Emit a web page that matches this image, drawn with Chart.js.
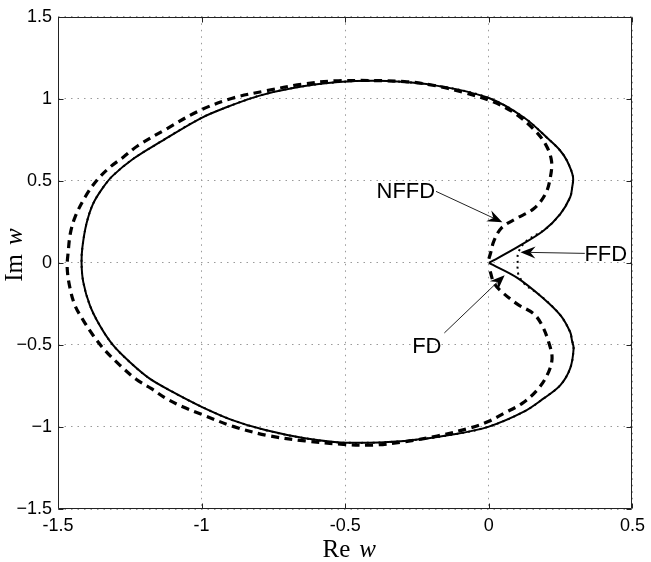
<!DOCTYPE html>
<html><head><meta charset="utf-8">
<script src="https://cdn.jsdelivr.net/npm/chart.js@4.4.0/dist/chart.umd.min.js"></script>
<style>html,body{margin:0;padding:0;background:#fff}</style>
</head><body>
<canvas id="c" width="651" height="562"></canvas>
<script>
// ---- data ----
const xTicks = [-1.5, -1, -0.5, 0, 0.5];
const yTicks = [-1.5, -1, -0.5, 0, 0.5, 1, 1.5];

// FD (solid)
const fdRe = [0.0, 0.099, 0.191, 0.249, 0.283, 0.290, 0.293, 0.272, 0.248, 0.214, 0.122, 0.0, -0.178, -0.351, -0.524, -0.686, -0.801, -0.916, -1.005, -1.147, -1.239, -1.309, -1.343, -1.378, -1.401, -1.415, -1.418,
  -1.412, -1.389, -1.355, -1.309, -1.251, -1.182, -1.101, -1.0, -0.893, -0.778, -0.64, -0.501, -0.293, -0.121, 0.0, 0.122, 0.191, 0.249, 0.283, 0.295, 0.289, 0.283, 0.249, 0.191, 0.099, 0.0];
const fdIm = [0.0, 0.096, 0.197, 0.299, 0.40, 0.46, 0.525, 0.623, 0.685, 0.744, 0.886, 1.005, 1.079, 1.108, 1.102, 1.065, 1.018, 0.947, 0.88, 0.734, 0.633, 0.532, 0.46, 0.36, 0.238, 0.096, 0.0,
  -0.117, -0.259, -0.38, -0.5, -0.603, -0.704, -0.786, -0.877, -0.958, -1.019, -1.069, -1.096, -1.085, -1.045, -0.998, -0.907, -0.826, -0.745, -0.643, -0.522, -0.47, -0.421, -0.319, -0.218, -0.091, 0.0];

// NFFD (dashed)
const nffdRe = [0.0, 0.006, 0.018, 0.045, 0.095, 0.156, 0.197, 0.214, 0.218, 0.197, 0.156, 0.087, 0.006, -0.086, -0.18, -0.293, -0.524, -0.651, -0.778, -0.893, -1.009, -1.124, -1.222, -1.274, -1.32, -1.366, -1.406, -1.441, -1.457, -1.464,
  -1.468, -1.459, -1.441, -1.412, -1.378, -1.337, -1.285, -1.228, -1.176, -1.124, -1.066, -1.003, -0.888, -0.767, -0.64, -0.507, -0.4, -0.293, -0.18, -0.063, 0.0, 0.052, 0.116, 0.168, 0.203, 0.22, 0.208, 0.185, 0.156, 0.099, 0.041, 0.017, 0.006, 0.0];
const nffdIm = [0.025, 0.06, 0.136, 0.215, 0.27, 0.33, 0.42, 0.521, 0.623, 0.724, 0.815, 0.916, 0.988, 1.038, 1.078, 1.105, 1.11, 1.089, 1.048, 1.004, 0.927, 0.815, 0.714, 0.643, 0.582, 0.501, 0.40, 0.278, 0.18, 0.076,
  -0.03, -0.147, -0.259, -0.35, -0.441, -0.532, -0.623, -0.709, -0.765, -0.826, -0.877, -0.921, -0.998, -1.053, -1.085, -1.106, -1.11, -1.09, -1.055, -1.005, -0.965, -0.917, -0.856, -0.775, -0.684, -0.583, -0.482, -0.38, -0.31, -0.251, -0.17, -0.12, -0.06, -0.025];

// FFD (dotted)
const ffdRe = [0.1, 0.102, 0.125, 0.165, 0.2, 0.249, 0.283, 0.290, 0.293, 0.272, 0.248, 0.214, 0.122, 0.0, -0.178, -0.351, -0.524, -0.686, -0.801, -0.916, -1.005, -1.147, -1.239, -1.309, -1.343, -1.378, -1.401, -1.415, -1.418,
  -1.412, -1.389, -1.355, -1.309, -1.251, -1.182, -1.101, -1.0, -0.893, -0.778, -0.64, -0.501, -0.293, -0.121, 0.0, 0.122, 0.191, 0.249, 0.283, 0.295, 0.289, 0.283, 0.249, 0.2, 0.165, 0.125, 0.102, 0.1];
const ffdIm = [0.0, 0.06, 0.125, 0.172, 0.21, 0.299, 0.40, 0.46, 0.525, 0.623, 0.685, 0.744, 0.886, 1.005, 1.079, 1.108, 1.102, 1.065, 1.018, 0.947, 0.88, 0.734, 0.633, 0.532, 0.46, 0.36, 0.238, 0.096, 0.0,
  -0.117, -0.259, -0.38, -0.5, -0.603, -0.704, -0.786, -0.877, -0.958, -1.019, -1.069, -1.096, -1.085, -1.045, -0.998, -0.907, -0.826, -0.745, -0.643, -0.522, -0.47, -0.421, -0.319, -0.23, -0.18, -0.13, -0.065, 0.0];

// annotations: label, text position, arrow tail, arrow tip (data coords)
const annLabels = ['NFFD', 'FFD', 'FD'];
const annText   = [[-0.289, 0.434], [0.407, 0.048], [-0.216, -0.511]];
const annTail   = [[-0.184, 0.436], [0.334, 0.058], [-0.155, -0.427]];
const annTip    = [[0.047, 0.248], [0.11, 0.065], [0.055, -0.075]];

// ---- chart ----
const pts = (xs, ys) => xs.map((x, i) => ({x: x, y: ys[i]}));

const decor = {
  id: 'decor',
  afterDraw(chart) {
    const ctx = chart.ctx, a = chart.chartArea, sx = chart.scales.x, sy = chart.scales.y;
    ctx.save();
    // frame
    ctx.strokeStyle = '#222'; ctx.lineWidth = 1; ctx.setLineDash([]);
    const L = Math.round(a.left) + 0.5, R = Math.round(a.right) - 0.5, T = Math.round(a.top) + 0.5, B = Math.round(a.bottom) - 0.5;
    ctx.beginPath(); ctx.moveTo(L, T); ctx.lineTo(R, T); ctx.lineTo(R, B); ctx.lineTo(L, B); ctx.closePath(); ctx.stroke();
    // inward ticks
    ctx.beginPath();
    xTicks.forEach(v => { const p = Math.round(sx.getPixelForValue(v)) + 0.5; ctx.moveTo(p, B); ctx.lineTo(p, B - 5); ctx.moveTo(p, T); ctx.lineTo(p, T + 5); });
    yTicks.forEach(v => { const p = Math.round(sy.getPixelForValue(v)) + 0.5; ctx.moveTo(L, p); ctx.lineTo(L + 5, p); ctx.moveTo(R, p); ctx.lineTo(R - 5, p); });
    ctx.stroke();
    // annotations
    ctx.fillStyle = '#000'; ctx.strokeStyle = '#222';
    annLabels.forEach((lab, i) => {
      const x0 = sx.getPixelForValue(annTail[i][0]), y0 = sy.getPixelForValue(annTail[i][1]);
      const x1 = sx.getPixelForValue(annTip[i][0]), y1 = sy.getPixelForValue(annTip[i][1]);
      const ang = Math.atan2(y1 - y0, x1 - x0);
      const len = 15, hw = 6, notch = 10;
      ctx.lineWidth = 1;
      ctx.beginPath(); ctx.moveTo(x0, y0);
      ctx.lineTo(x1 - notch * Math.cos(ang), y1 - notch * Math.sin(ang)); ctx.stroke();
      const c = Math.cos(ang), s = Math.sin(ang);
      const bx = x1 - len * c, by = y1 - len * s;
      ctx.beginPath();
      ctx.moveTo(x1, y1);
      ctx.lineTo(bx - hw * s, by + hw * c);
      ctx.lineTo(x1 - notch * c, y1 - notch * s);
      ctx.lineTo(bx + hw * s, by - hw * c);
      ctx.closePath(); ctx.fill();
      ctx.font = '22px "Liberation Sans", Arial, sans-serif';
      ctx.textAlign = 'center'; ctx.textBaseline = 'middle';
      ctx.fillText(lab, sx.getPixelForValue(annText[i][0]), sy.getPixelForValue(annText[i][1]));
    });
    // axis titles
    ctx.textAlign = 'left'; ctx.textBaseline = 'alphabetic';
    const rom = '25px "Liberation Serif", "Times New Roman", serif';
    const ita = 'italic 25px "Liberation Serif", "Times New Roman", serif';
    const gap = 9;
    ctx.font = rom; const wRe = ctx.measureText('Re').width, wIm = ctx.measureText('Im').width;
    ctx.font = ita; const wW = ctx.measureText('w').width;
    const cx = (a.left + a.right) / 2 + 4;
    let sxx = cx - (wRe + gap + wW) / 2;
    ctx.font = rom; ctx.fillText('Re', sxx, 557);
    ctx.font = ita; ctx.fillText('w', sxx + wRe + gap, 557);
    ctx.save();
    ctx.translate(22, 255); ctx.rotate(-Math.PI / 2);
    const tot = wIm + gap + wW;
    ctx.font = rom; ctx.fillText('Im', -tot / 2, 0);
    ctx.font = ita; ctx.fillText('w', -tot / 2 + wIm + gap, 0);
    ctx.restore();
    ctx.restore();
  }
};

const tickFont = {family: '"Liberation Sans", Arial, sans-serif', size: 18};
new Chart(document.getElementById('c'), {
  type: 'scatter',
  data: {
    datasets: [
      {label: 'FD', data: pts(fdRe, fdIm), showLine: true, borderColor: '#000', borderWidth: 2, pointRadius: 0, tension: 0.35, order: 0},
      {label: 'NFFD', data: pts(nffdRe, nffdIm), showLine: true, borderColor: '#000', borderWidth: 3.2, borderDash: [8, 5.5], pointRadius: 0, tension: 0.35, order: 1},
      {label: 'FFD', data: pts(ffdRe, ffdIm), showLine: true, borderColor: '#000', borderWidth: 2, borderDash: [2, 4], pointRadius: 0, tension: 0.35, order: 2}
    ]
  },
  options: {
    responsive: false, animation: false, devicePixelRatio: 1,
    layout: {padding: {top: 16, right: 15, left: 0, bottom: 0}},
    plugins: {legend: {display: false}, tooltip: {enabled: false}, title: {display: false}},
    scales: {
      x: {
        type: 'linear', min: -1.5, max: 0.5,
        afterFit: s => { s.height = 53; },
        afterBuildTicks: s => { s.ticks = xTicks.map(v => ({value: v})); },
        ticks: {color: '#000', font: tickFont, padding: 6, maxRotation: 0, callback: v => String(v)},
        grid: {color: '#9a9a9a', lineWidth: 1, drawTicks: false},
        border: {display: false, dash: [1.5, 5]}
      },
      y: {
        type: 'linear', min: -1.5, max: 1.5,
        afterFit: s => { s.width = 58; },
        afterBuildTicks: s => { s.ticks = yTicks.map(v => ({value: v})); },
        ticks: {color: '#000', font: tickFont, padding: 6, callback: v => (v < 0 ? '\u2212' : '') + String(Math.abs(v))},
        grid: {color: '#9a9a9a', lineWidth: 1, drawTicks: false},
        border: {display: false, dash: [1.5, 5]}
      }
    }
  },
  plugins: [decor]
});
</script>
</body></html>
